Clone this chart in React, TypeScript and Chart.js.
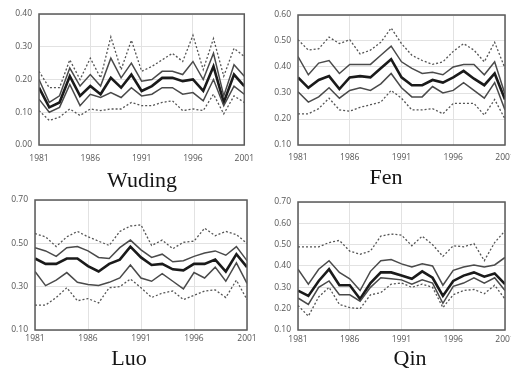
import React, { useEffect, useRef } from "react";
import { Chart, registerables } from "chart.js";

Chart.register(...registerables);

const YEARS = [1981, 1982, 1983, 1984, 1985, 1986, 1987, 1988, 1989, 1990, 1991, 1992, 1993, 1994, 1995, 1996, 1997, 1998, 1999, 2000, 2001];

// Wuding
const WUDING_HI = [0.225, 0.175, 0.175, 0.26, 0.2, 0.265, 0.205, 0.33, 0.23, 0.32, 0.225, 0.24, 0.26, 0.28, 0.255, 0.335, 0.23, 0.325, 0.21, 0.295, 0.27];
const WUDING_Q3 = [0.2, 0.13, 0.15, 0.235, 0.18, 0.215, 0.18, 0.265, 0.205, 0.25, 0.195, 0.2, 0.225, 0.225, 0.215, 0.255, 0.2, 0.28, 0.15, 0.245, 0.21];
const WUDING_MED = [0.175, 0.115, 0.13, 0.21, 0.15, 0.18, 0.155, 0.205, 0.175, 0.215, 0.165, 0.18, 0.205, 0.205, 0.195, 0.2, 0.165, 0.24, 0.13, 0.215, 0.18];
const WUDING_Q1 = [0.14, 0.1, 0.115, 0.185, 0.12, 0.155, 0.145, 0.16, 0.145, 0.175, 0.15, 0.155, 0.175, 0.175, 0.155, 0.16, 0.135, 0.2, 0.12, 0.18, 0.155];
const WUDING_LO = [0.105, 0.075, 0.085, 0.11, 0.09, 0.11, 0.105, 0.11, 0.11, 0.13, 0.12, 0.12, 0.13, 0.135, 0.105, 0.11, 0.105, 0.155, 0.095, 0.15, 0.13];

// Fen
const FEN_HI = [0.505, 0.465, 0.47, 0.515, 0.49, 0.505, 0.45, 0.465, 0.495, 0.55, 0.49, 0.445, 0.425, 0.41, 0.42, 0.46, 0.49, 0.465, 0.42, 0.495, 0.395];
const FEN_Q3 = [0.44, 0.37, 0.415, 0.425, 0.375, 0.41, 0.41, 0.41, 0.445, 0.48, 0.42, 0.395, 0.375, 0.38, 0.37, 0.4, 0.41, 0.41, 0.37, 0.42, 0.295];
const FEN_MED = [0.36, 0.32, 0.35, 0.365, 0.315, 0.36, 0.365, 0.36, 0.395, 0.43, 0.36, 0.33, 0.33, 0.35, 0.34, 0.36, 0.385, 0.355, 0.33, 0.375, 0.275];
const FEN_Q1 = [0.305, 0.265, 0.285, 0.32, 0.28, 0.31, 0.32, 0.31, 0.335, 0.375, 0.32, 0.285, 0.285, 0.325, 0.3, 0.31, 0.34, 0.31, 0.28, 0.34, 0.235];
const FEN_LO = [0.22, 0.22, 0.24, 0.28, 0.235, 0.23, 0.245, 0.255, 0.265, 0.31, 0.28, 0.235, 0.235, 0.24, 0.22, 0.26, 0.26, 0.26, 0.215, 0.275, 0.2];

// Luo
const LUO_HI = [0.545, 0.53, 0.485, 0.53, 0.555, 0.53, 0.51, 0.49, 0.555, 0.58, 0.585, 0.49, 0.515, 0.475, 0.505, 0.51, 0.57, 0.535, 0.555, 0.54, 0.5];
const LUO_Q3 = [0.48, 0.465, 0.44, 0.48, 0.485, 0.465, 0.435, 0.43, 0.48, 0.515, 0.47, 0.435, 0.45, 0.415, 0.42, 0.44, 0.455, 0.465, 0.445, 0.485, 0.42];
const LUO_MED = [0.43, 0.405, 0.405, 0.43, 0.43, 0.395, 0.37, 0.405, 0.425, 0.485, 0.435, 0.4, 0.405, 0.38, 0.375, 0.405, 0.405, 0.425, 0.37, 0.45, 0.39];
const LUO_Q1 = [0.37, 0.305, 0.33, 0.365, 0.32, 0.31, 0.305, 0.32, 0.34, 0.4, 0.34, 0.325, 0.36, 0.325, 0.29, 0.365, 0.34, 0.39, 0.325, 0.41, 0.315];
const LUO_LO = [0.215, 0.215, 0.25, 0.295, 0.235, 0.245, 0.225, 0.295, 0.3, 0.335, 0.295, 0.25, 0.27, 0.28, 0.24, 0.26, 0.28, 0.285, 0.25, 0.33, 0.24];

// Qin
const QIN_HI = [0.49, 0.49, 0.49, 0.51, 0.52, 0.47, 0.455, 0.47, 0.54, 0.55, 0.545, 0.495, 0.54, 0.5, 0.445, 0.495, 0.49, 0.505, 0.425, 0.51, 0.565];
const QIN_Q3 = [0.385, 0.315, 0.385, 0.425, 0.37, 0.34, 0.285, 0.375, 0.425, 0.43, 0.41, 0.395, 0.41, 0.4, 0.31, 0.38, 0.395, 0.405, 0.395, 0.405, 0.44];
const QIN_MED = [0.285, 0.26, 0.33, 0.385, 0.31, 0.31, 0.245, 0.32, 0.37, 0.37, 0.355, 0.34, 0.375, 0.345, 0.26, 0.33, 0.355, 0.37, 0.35, 0.365, 0.315];
const QIN_Q1 = [0.25, 0.22, 0.3, 0.33, 0.265, 0.265, 0.235, 0.3, 0.345, 0.34, 0.335, 0.315, 0.335, 0.32, 0.225, 0.305, 0.32, 0.345, 0.32, 0.345, 0.285];
const QIN_LO = [0.215, 0.165, 0.255, 0.3, 0.22, 0.205, 0.2, 0.265, 0.275, 0.315, 0.32, 0.3, 0.315, 0.3, 0.205, 0.265, 0.285, 0.29, 0.27, 0.31, 0.245];

const X_TICKS = [1981, 1986, 1991, 1996, 2001];

type Panel = {
  title: string;
  series: number[][]; // hi, q3, med, q1, lo
  yMin: number;
  yMax: number;
  yStep: number;
  box: { left: number; top: number; width: number; height: number };
  yAxisW: number;
  padTop: number;
  padRight: number;
  xAxisH: number;
  xPad: number;
  titlePos: { cx: number; top: number };
};

const PANELS: Panel[] = [
  {
    title: "Wuding",
    series: [WUDING_HI, WUDING_Q3, WUDING_MED, WUDING_Q1, WUDING_LO],
    yMin: 0, yMax: 0.4, yStep: 0.1,
    box: { left: 0, top: 0, width: 262, height: 166 },
    yAxisW: 39, padTop: 14, padRight: 12, xAxisH: 21, xPad: 8,
    titlePos: { cx: 142, top: 169 },
  },
  {
    title: "Fen",
    series: [FEN_HI, FEN_Q3, FEN_MED, FEN_Q1, FEN_LO],
    yMin: 0.1, yMax: 0.6, yStep: 0.1,
    box: { left: 256, top: 0, width: 270, height: 166 },
    yAxisW: 42, padTop: 15, padRight: 21, xAxisH: 21, xPad: 7,
    titlePos: { cx: 386, top: 166 },
  },
  {
    title: "Luo",
    series: [LUO_HI, LUO_Q3, LUO_MED, LUO_Q1, LUO_LO],
    yMin: 0.1, yMax: 0.7, yStep: 0.2,
    box: { left: 0, top: 184, width: 262, height: 166 },
    yAxisW: 35, padTop: 16, padRight: 15, xAxisH: 20, xPad: 3,
    titlePos: { cx: 129, top: 347 },
  },
  {
    title: "Qin",
    series: [QIN_HI, QIN_Q3, QIN_MED, QIN_Q1, QIN_LO],
    yMin: 0.1, yMax: 0.7, yStep: 0.1,
    box: { left: 256, top: 184, width: 270, height: 166 },
    yAxisW: 42, padTop: 18, padRight: 21, xAxisH: 20, xPad: 4,
    titlePos: { cx: 410, top: 347 },
  },
];

const framePlugin = {
  id: "frame",
  afterDraw(chart: any) {
    const { ctx, chartArea: a } = chart;
    ctx.save();
    ctx.strokeStyle = "#5a5a5a";
    ctx.lineWidth = 1.5;
    ctx.strokeRect(a.left, a.top, a.right - a.left, a.bottom - a.top);
    ctx.restore();
  },
};

const STYLES = [
  { color: "#555", width: 1.3, dash: [2, 2] },
  { color: "#4a4a4a", width: 1.5, dash: [] },
  { color: "#1a1a1a", width: 2.6, dash: [] },
  { color: "#4a4a4a", width: 1.5, dash: [] },
  { color: "#555", width: 1.3, dash: [2, 2] },
];

function PanelChart({ p }: { p: Panel }) {
  const ref = useRef<HTMLCanvasElement | null>(null);
  useEffect(() => {
    if (!ref.current) return;
    const order = [0, 4, 1, 3, 2];
    const datasets = order.map((i) => ({
      data: YEARS.map((yr, k) => ({ x: yr, y: p.series[i][k] })),
      borderColor: STYLES[i].color,
      borderWidth: STYLES[i].width,
      borderDash: STYLES[i].dash,
      pointRadius: 0,
      tension: 0,
      fill: false,
    }));
    const tickFont = { family: "'Open Sans', sans-serif", size: 8.5 };
    const chart = new Chart(ref.current, {
      type: "line",
      data: { datasets },
      plugins: [framePlugin],
      options: {
        animation: false,
        responsive: false,
        maintainAspectRatio: false,
        layout: { padding: { top: p.padTop, right: p.padRight, left: 0, bottom: 0 } },
        plugins: { legend: { display: false }, tooltip: { enabled: false } },
        scales: {
          x: {
            type: "linear",
            min: 1981,
            max: 2001,
            afterBuildTicks: (s: any) => {
              s.ticks = X_TICKS.map((v) => ({ value: v }));
            },
            afterFit: (s: any) => {
              s.height = p.xAxisH;
            },
            ticks: {
              callback: (v: any) => String(v),
              font: tickFont,
              color: "#555",
              padding: p.xPad,
              maxRotation: 0,
              autoSkip: false,
            },
            grid: { color: "#e2e2e2", drawTicks: false, lineWidth: 1 },
            border: { display: false },
          },
          y: {
            min: p.yMin,
            max: p.yMax,
            afterFit: (s: any) => {
              s.width = p.yAxisW;
            },
            ticks: {
              stepSize: p.yStep,
              callback: (v: any) => Number(v).toFixed(2),
              font: tickFont,
              color: "#555",
              padding: 7,
            },
            grid: { color: "#e2e2e2", drawTicks: false, lineWidth: 1 },
            border: { display: false },
          },
        },
      },
    } as any);
    return () => chart.destroy();
  }, [p]);
  return (
    <canvas
      ref={ref}
      width={p.box.width}
      height={p.box.height}
      style={{
        position: "absolute",
        left: p.box.left,
        top: p.box.top,
        width: p.box.width,
        height: p.box.height,
      }}
    />
  );
}

export default function App() {
  return (
    <div
      style={{
        position: "absolute",
        left: 0,
        top: 0,
        width: 511,
        height: 368,
        overflow: "hidden",
        background: "#fff",
      }}
    >
      {PANELS.map((p) => (
        <PanelChart key={p.title} p={p} />
      ))}
      {PANELS.map((p) => (
        <div
          key={p.title + "-t"}
          style={{
            position: "absolute",
            left: p.titlePos.cx - 60,
            width: 120,
            top: p.titlePos.top,
            textAlign: "center",
            fontFamily: "'Liberation Serif', serif",
            fontSize: 22,
            lineHeight: "22px",
            color: "#151515",
          }}
        >
          {p.title}
        </div>
      ))}
    </div>
  );
}
